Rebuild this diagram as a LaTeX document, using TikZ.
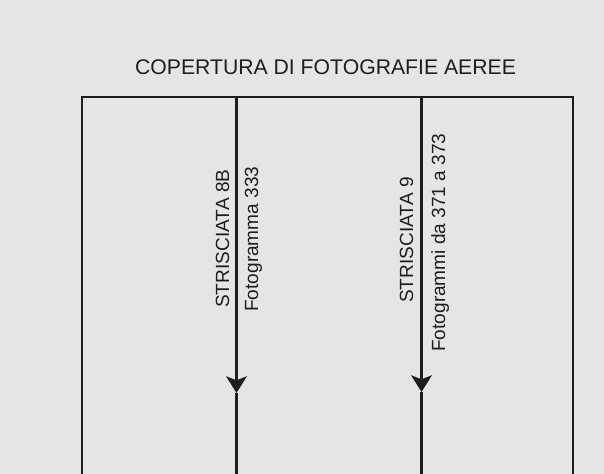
\documentclass[tikz,border=0pt]{standalone}
\usepackage{fontspec}
\setmainfont{Liberation Sans}
\usetikzlibrary{arrows.meta}
\definecolor{sheet}{RGB}{229,229,227}
\definecolor{ink}{RGB}{30,30,30}
\tikzset{
  frame/.style={line width=1.1pt, draw=ink},
  strip/.style={line width=1.8pt, draw=ink},
  striptip/.style={-{Stealth[length=12.5pt, width=15.5pt, inset=3pt]}},
  striplabel/.style={rotate=90, anchor=base west, inner sep=0pt, text=ink, font=\fontsize{14.3pt}{16pt}\selectfont}
}
\begin{document}
\begin{tikzpicture}[x=0.75pt, y=-0.75pt]
			%%%%% START %%%%%
			
			\fill[sheet] (0, 0) rectangle (604, 474);
			\useasboundingbox (0, 0) rectangle (604, 474);
			
			\node[anchor=base, inner sep=0pt, text=ink, font=\fontsize{15.9pt}{18pt}\selectfont] (title) at (325.5, 75) {COPERTURA DI FOTOGRAFIE AEREE};
			
			% frame
			\coordinate (fbl) at (82, 474);
			\coordinate (ftl) at (82, 97);
			\coordinate (ftr) at (573, 97);
			\coordinate (fbr) at (573, 474);
			\draw[frame] (fbl) -- (ftl) -- (ftr) -- (fbr);
			
			% strisciata 8B
			\coordinate (s8top) at (236.5, 97);
			\coordinate (s8tip) at (236.5, 393);
			\coordinate (s8bot) at (236.5, 474);
			\draw[strip, striptip] (s8top) -- (s8tip);
			\draw[strip] (s8tip) -- (s8bot);
			\node[striplabel] (s8name) at (229, 308) {STRISCIATA 8B};
			\node[striplabel] (s8frames) at (258, 312) {Fotogramma 333};
			
			% strisciata 9
			\coordinate (s9top) at (421.5, 97);
			\coordinate (s9tip) at (421.5, 392);
			\coordinate (s9bot) at (421.5, 474);
			\draw[strip, striptip] (s9top) -- (s9tip);
			\draw[strip] (s9tip) -- (s9bot);
			\node[striplabel] (s9name) at (413, 303) {STRISCIATA 9};
			\node[striplabel] (s9frames) at (445, 352) {Fotogrammi da 371 a 373};
			
			%%%%% END %%%%%
\end{tikzpicture}
\end{document}
